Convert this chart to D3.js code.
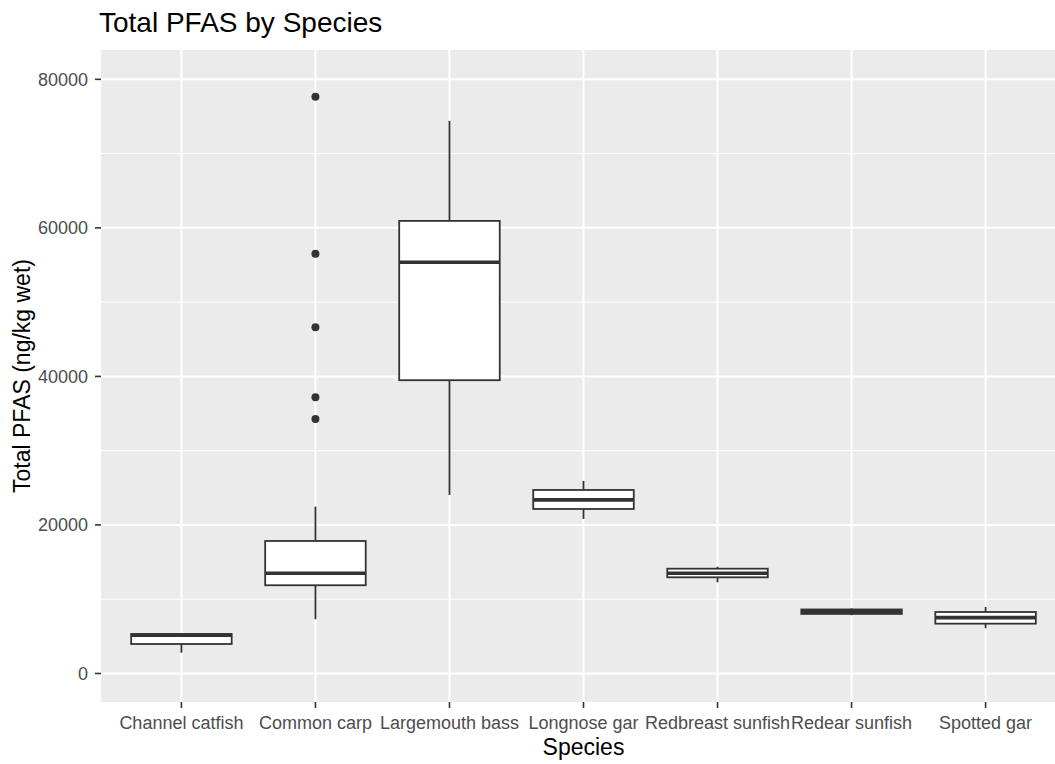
<!DOCTYPE html>
<html>
<head>
<meta charset="utf-8">
<script src="https://cdn.jsdelivr.net/npm/d3@7"></script>
<style>
  html, body { margin: 0; padding: 0; background: #fff; overflow: hidden; }
  text { font-family: "Liberation Sans", Arial, sans-serif; }
</style>
</head>
<body>
<div id="chart"></div>
<script>
// Data
var species = ["Channel catfish", "Common carp", "Largemouth bass", "Longnose gar",
               "Redbreast sunfish", "Redear sunfish", "Spotted gar"];
var whiskerLow  = [2800, 7300, 24040, 20810, 12280, 7850, 6090];
var q1          = [3970, 11880, 39490, 22150, 12950, 8020, 6710];
var median      = [5140, 13490, 55380, 23370, 13490, 8320, 7520];
var q3          = [5320, 17840, 60940, 24710, 14110, 8620, 8280];
var whiskerHigh = [5450, 22470, 74410, 25930, 14380, 8750, 8960];
var outliers    = [[], [34280, 37200, 46630, 56500, 77640], [], [], [], [], []];
var yMajor = [0, 20000, 40000, 60000, 80000];
var yMinor = [10000, 30000, 50000, 70000];

var width = 1055, height = 764;
var panel = { left: 101, top: 50, right: 1066, bottom: 702 };

var svg = d3.select("#chart").append("svg")
    .attr("width", width)
    .attr("height", height);

// discrete x: categories at 1..7, expanded by 0.6 each side
var x = d3.scaleLinear()
    .domain([0.4, species.length + 0.6])
    .range([panel.left, panel.right]);

var y = d3.scaleLinear()
    .domain([-3840, 83950])
    .range([panel.bottom, panel.top]);

var unit = x(2) - x(1);
var boxW = unit * 0.75;

// panel background
svg.append("rect")
    .attr("x", panel.left)
    .attr("y", panel.top)
    .attr("width", panel.right - panel.left)
    .attr("height", panel.bottom - panel.top)
    .attr("fill", "#EBEBEB");

// grid
svg.selectAll(".minor")
    .data(yMinor)
    .enter().append("line")
    .attr("x1", panel.left).attr("x2", panel.right)
    .attr("y1", d => y(d)).attr("y2", d => y(d))
    .attr("stroke", "#fff").attr("stroke-width", 1);

svg.selectAll(".major")
    .data(yMajor)
    .enter().append("line")
    .attr("x1", panel.left).attr("x2", panel.right)
    .attr("y1", d => y(d)).attr("y2", d => y(d))
    .attr("stroke", "#fff").attr("stroke-width", 2);

svg.selectAll(".vgrid")
    .data(species)
    .enter().append("line")
    .attr("x1", (d, i) => x(i + 1)).attr("x2", (d, i) => x(i + 1))
    .attr("y1", panel.top).attr("y2", panel.bottom)
    .attr("stroke", "#fff").attr("stroke-width", 2);

// boxes
var g = svg.selectAll(".box")
    .data(species)
    .enter().append("g");

g.append("line")
    .attr("x1", (d, i) => x(i + 1)).attr("x2", (d, i) => x(i + 1))
    .attr("y1", (d, i) => y(q3[i])).attr("y2", (d, i) => y(whiskerHigh[i]))
    .attr("stroke", "#333").attr("stroke-width", 1.8);

g.append("line")
    .attr("x1", (d, i) => x(i + 1)).attr("x2", (d, i) => x(i + 1))
    .attr("y1", (d, i) => y(q1[i])).attr("y2", (d, i) => y(whiskerLow[i]))
    .attr("stroke", "#333").attr("stroke-width", 1.8);

g.append("rect")
    .attr("x", (d, i) => x(i + 1) - boxW / 2)
    .attr("width", boxW)
    .attr("y", (d, i) => y(q3[i]))
    .attr("height", (d, i) => y(q1[i]) - y(q3[i]))
    .attr("fill", "#fff")
    .attr("stroke", "#333").attr("stroke-width", 1.8);

g.append("line")
    .attr("x1", (d, i) => x(i + 1) - boxW / 2).attr("x2", (d, i) => x(i + 1) + boxW / 2)
    .attr("y1", (d, i) => y(median[i])).attr("y2", (d, i) => y(median[i]))
    .attr("stroke", "#333").attr("stroke-width", 3.6);

g.each(function(d, i) {
    d3.select(this).selectAll("circle")
        .data(outliers[i])
        .enter().append("circle")
        .attr("cx", x(i + 1))
        .attr("cy", v => y(v))
        .attr("r", 4)
        .attr("fill", "#333");
});

// y axis
svg.selectAll(".ytick")
    .data(yMajor)
    .enter().append("line")
    .attr("x1", panel.left - 6).attr("x2", panel.left)
    .attr("y1", d => y(d)).attr("y2", d => y(d))
    .attr("stroke", "#333").attr("stroke-width", 1.6);

svg.selectAll(".ylab")
    .data(yMajor)
    .enter().append("text")
    .attr("x", panel.left - 13)
    .attr("y", d => y(d))
    .attr("dy", "0.36em")
    .attr("text-anchor", "end")
    .attr("fill", "#4D4D4D")
    .style("font-size", "18px")
    .text(d => d);

// x axis
svg.selectAll(".xtick")
    .data(species)
    .enter().append("line")
    .attr("x1", (d, i) => x(i + 1)).attr("x2", (d, i) => x(i + 1))
    .attr("y1", panel.bottom).attr("y2", panel.bottom + 6)
    .attr("stroke", "#333").attr("stroke-width", 1.6);

svg.selectAll(".xlab")
    .data(species)
    .enter().append("text")
    .attr("x", (d, i) => x(i + 1))
    .attr("y", 729)
    .attr("text-anchor", "middle")
    .attr("fill", "#4D4D4D")
    .style("font-size", "18px")
    .text(d => d);

// titles
svg.append("text")
    .attr("x", (panel.left + 1066) / 2)
    .attr("y", 755)
    .attr("text-anchor", "middle")
    .style("font-size", "23px")
    .text("Species");

svg.append("text")
    .attr("transform", "translate(30," + ((panel.top + panel.bottom) / 2) + ") rotate(-90)")
    .attr("text-anchor", "middle")
    .style("font-size", "23px")
    .text("Total PFAS (ng/kg wet)");

svg.append("text")
    .attr("x", panel.left - 2)
    .attr("y", 32)
    .style("font-size", "28px")
    .text("Total PFAS by Species");
</script>
</body>
</html>
